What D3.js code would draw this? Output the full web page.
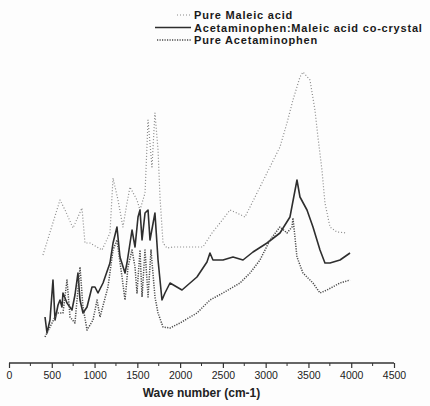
<!DOCTYPE html>
<html>
<head>
<meta charset="utf-8">
<script src="https://cdn.jsdelivr.net/npm/d3@7"></script>
<style>
  body { margin: 0; background: #fdfdfd; }
  svg { display: block; font-family: "Liberation Sans", Arial, sans-serif; }
</style>
</head>
<body>
<div id="chart"></div>
<script>
// wave numbers (cm-1) and relative intensity (arbitrary units, no y axis in the original)
var maleicWn = [397,596,655,748,853,888,947,1029,1087,1180,1216,1274,1332,1379,1414,1496,1531,1590,1625,1671,1706,1742,1765,1800,1847,1917,2115,2267,2373,2466,2583,2665,2758,2817,2934,3050,3167,3249,3319,3401,3436,3518,3576,3611,3658,3693,3752,3834,3950];
var maleicVal = [108,163,153,135,155,120,120,116,113,130,185,163,136,160,176,163,153,170,243,196,250,213,166,120,115,116,116,116,130,140,153,150,146,156,176,196,216,240,263,286,291,283,253,226,193,160,136,131,130];

var cocrystalWn = [421,444,479,514,538,573,596,619,631,678,736,771,806,830,865,912,970,1005,1040,1099,1180,1216,1262,1297,1356,1379,1438,1473,1508,1531,1555,1590,1625,1648,1706,1742,1788,1823,1882,2022,2197,2314,2349,2384,2501,2618,2735,2852,3016,3167,3284,3366,3401,3483,3553,3635,3693,3752,3869,3986];
var cocrystalVal = [46,30,43,83,43,58,63,56,70,60,53,68,90,63,50,56,76,76,70,80,100,120,136,106,90,100,133,116,146,153,123,150,153,123,150,103,63,70,80,73,86,101,110,103,103,106,103,111,120,130,146,183,166,153,136,113,100,100,103,110];

var acetWn = [421,479,561,631,678,713,771,830,865,912,982,1029,1064,1157,1216,1262,1321,1356,1391,1438,1473,1496,1531,1555,1590,1625,1660,1706,1742,1800,1882,1999,2197,2349,2501,2700,2817,2934,3050,3167,3249,3308,3319,3366,3436,3553,3635,3717,3869,3986];
var acetVal = [26,36,50,50,83,46,40,96,56,33,43,63,46,76,113,123,86,63,96,113,96,70,113,66,113,66,113,66,50,36,35,40,50,63,70,80,90,103,123,136,130,136,145,106,90,80,70,73,80,83];

var xTicks = [0,500,1000,1500,2000,2500,3000,3500,4000,4500];
var xMinorTicks = [250,750,1250,1750,2250,2750,3250,3750,4250];

var seriesNames = ["Pure Maleic acid", "Acetaminophen:Maleic acid co-crystal", "Pure Acetaminophen"];

var width = 430, height = 406;

var svg = d3.select("#chart").append("svg")
    .attr("width", width)
    .attr("height", height);

var x = d3.scaleLinear().domain([0, 4500]).range([9, 394]);
var y = d3.scaleLinear().domain([0, 300]).range([363, 63]);

function zip(wn, val) {
    return wn.map(function (w, i) { return [w, val[i]]; });
}

var line = d3.line()
    .x(function (d) { return x(d[0]); })
    .y(function (d) { return y(d[1]); });

var series = [
    {name: seriesNames[0], data: zip(maleicWn, maleicVal), color: "#8a8a8a", width: 1.2, dash: "1,2"},
    {name: seriesNames[1], data: zip(cocrystalWn, cocrystalVal), color: "#2e2e2e", width: 1.6, dash: null},
    {name: seriesNames[2], data: zip(acetWn, acetVal), color: "#4a4a4a", width: 1.5, dash: "1.2,1.3"}
];

svg.append("g").selectAll("path")
    .data(series)
    .enter()
    .append("path")
    .attr("d", function (d) { return line(d.data); })
    .attr("fill", "none")
    .attr("stroke", function (d) { return d.color; })
    .attr("stroke-width", function (d) { return d.width; })
    .attr("stroke-dasharray", function (d) { return d.dash; })
    .attr("stroke-linejoin", "round");

// x axis (ticks hanging below the line)
var axis = svg.append("g")
    .attr("transform", "translate(0," + y(0) + ")");

axis.call(d3.axisBottom(x).tickValues(xTicks).tickSize(5).tickPadding(4).tickFormat(d3.format("d")));

axis.selectAll("line.minor")
    .data(xMinorTicks)
    .enter()
    .append("line")
    .attr("class", "minor")
    .attr("x1", function (d) { return x(d); })
    .attr("x2", function (d) { return x(d); })
    .attr("y1", 0)
    .attr("y2", 3)
    .attr("stroke", "#333");

axis.select(".domain").attr("stroke", "#333").attr("stroke-width", 1.3)
    .attr("d", "M" + x(0) + ",0H" + x(4500));
axis.selectAll(".tick line").attr("stroke", "#333").attr("stroke-width", 1.2);
axis.selectAll(".tick text")
    .attr("fill", "#222")
    .style("font-size", "10.5px")
    .style("font-family", "'Liberation Sans', Arial, sans-serif");

svg.append("text")
    .attr("x", (x(0) + x(4500)) / 2)
    .attr("y", 397)
    .attr("text-anchor", "middle")
    .attr("fill", "#222")
    .style("font-size", "12px")
    .style("font-weight", "bold")
    .text("Wave number (cm-1)");

// legend
var legendY = [15, 27.5, 40];
var legendX0 = [177, 155, 157];

var legend = svg.append("g");
series.forEach(function (s, i) {
    legend.append("line")
        .attr("x1", legendX0[i])
        .attr("x2", 191)
        .attr("y1", legendY[i])
        .attr("y2", legendY[i])
        .attr("stroke", s.color)
        .attr("stroke-width", s.width)
        .attr("stroke-dasharray", s.dash);
    legend.append("text")
        .attr("x", 194)
        .attr("y", legendY[i] + 4)
        .attr("fill", "#1a1a1a")
        .style("font-size", "11px")
        .style("font-weight", "bold")
        .style("letter-spacing", "0.8px")
        .text(s.name);
});
</script>
</body>
</html>
